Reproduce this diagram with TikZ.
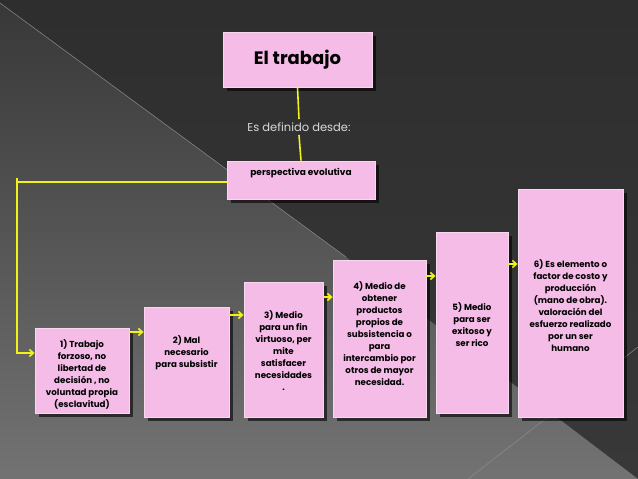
\documentclass[tikz,border=0pt]{standalone}
\usepackage{fontspec}
\setmainfont{Poppins}
\usetikzlibrary{shadows,arrows.meta}
\definecolor{pinkbox}{HTML}{F4BCE6}
\definecolor{yel}{HTML}{F2F21A}
\tikzset{
 pbox/.style={draw=pinkbox!60!white, line width=0.8pt, fill=pinkbox, drop shadow={shadow xshift=4pt,shadow yshift=-4pt,opacity=0.6,fill=black}},
 txt/.style={align=center, font=\fontsize{8.7}{12}\selectfont\bfseries, text=black},
 conn/.style={draw=yel, line width=1.6pt},
 arr/.style={conn, -{Straight Barb[length=4pt,width=7pt]}}
}
\begin{document}
\begin{tikzpicture}[x=1pt,y=-1pt]
\useasboundingbox (0,0) rectangle (638,479);
\fill[top color=black!82, bottom color=black!78] (0,0) rectangle (638,479);
\shade[top color=black!78, bottom color=black!55] (0,3) -- (346,257) -- (638,479) -- (0,479) -- cycle;
\draw[black!45, line width=0.5pt] (0,3) -- (346,257);
\draw[black!45, line width=0.5pt] (468,479) -- (638,347);
% top
\node[pbox, minimum width=149, minimum height=55, font=\fontsize{18}{20}\selectfont\bfseries] (t) at (297.5,59.5) {El trabajo};
\node[text=black!15, font=\fontsize{11.5}{13}\selectfont] (d) at (299,127) {Es definido desde:};
\node[pbox, minimum width=148, minimum height=38] (p) at (301,180) {};
\node[font=\fontsize{9}{10}\selectfont\bfseries, anchor=center] at (301,173) {perspectiva evolutiva};
\draw[conn] (t.south) -- (d.north);
\draw[conn] (d.south) -- (p.north);
% steps
\node[pbox, minimum width=94, minimum height=85] (b1) at (82,370.5) {};
\node[pbox, minimum width=85, minimum height=110] (b2) at (186.5,362) {};
\node[pbox, minimum width=79, minimum height=135] (b3) at (283.5,349.5) {};
\node[pbox, minimum width=93, minimum height=157] (b4) at (379.5,338.5) {};
\node[pbox, minimum width=72, minimum height=181] (b5) at (472,322.5) {};
\node[pbox, minimum width=105, minimum height=228] (b6) at (570.5,303) {};
\node[txt, anchor=north] at (82,336) {1) Trabajo\\forzoso, no\\libertad de\\decisión , no\\voluntad propia\\(esclavitud)};
\node[txt, anchor=north] at (186.5,332) {2) Mal\\necesario\\para subsistir};
\node[txt, anchor=north] at (283.5,307) {3) Medio\\para un fin\\virtuoso, per\\mite\\satisfacer\\necesidades\\.};
\node[txt, anchor=north] at (379.5,278) {4) Medio de\\obtener\\productos\\propios de\\subsistencia o\\para\\intercambio por\\otros de mayor\\necesidad.};
\node[txt, anchor=north] at (472,299) {5) Medio\\para ser\\exitoso y\\ser rico};
\node[txt, anchor=north] at (570.5,256) {6) Es elemento o\\factor de costo y\\producción\\(mano de obra).\\valoración del\\esfuerzo realizado\\por un ser\\humano};
% connectors
\coordinate (c1) at (17,182);
\draw[conn] (p.west|-0,182) -- (c1);
\draw[arr] (17,178) -- (17,353) -- (b1.west|-0,353);
\draw[arr] (b1.east|-0,332) -- (b2.west|-0,332);
\draw[arr] (b2.east|-0,315) -- (b3.west|-0,315);
\draw[arr] (b3.east|-0,297) -- (b4.west|-0,297);
\draw[arr] (b4.east|-0,276) -- (b5.west|-0,276);
\draw[arr] (b5.east|-0,264) -- (b6.west|-0,264);
\end{tikzpicture}
\end{document}
